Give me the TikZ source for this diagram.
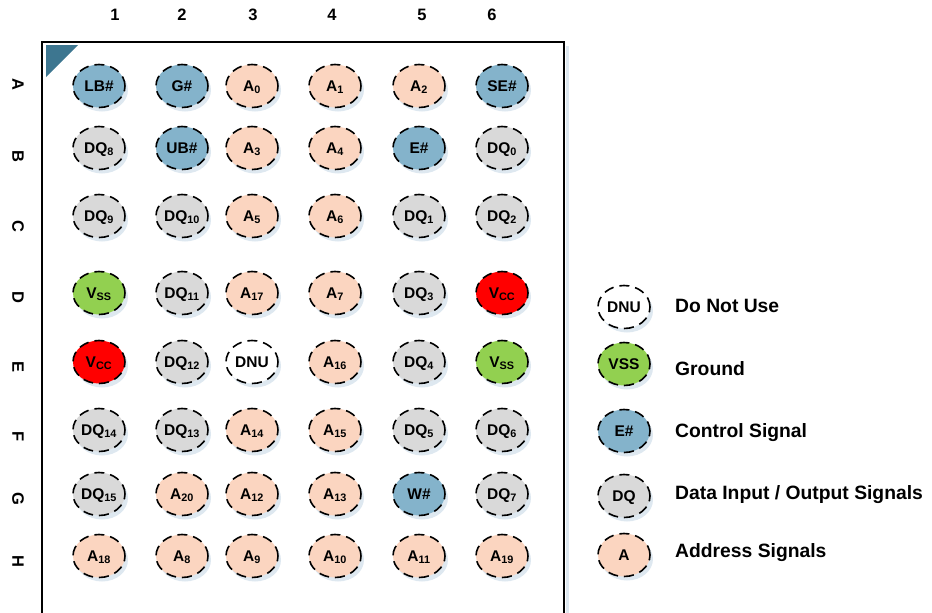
\documentclass[tikz,border=0pt]{standalone}
\usepackage{fontspec}
\setmainfont{Liberation Sans}
\usepackage{tikz}
\usetikzlibrary{shapes.geometric, shadows}
\usepackage{xcolor}
\definecolor{ctrlblue}{RGB}{132,179,203}
\definecolor{addrpeach}{RGB}{251,213,192}
\definecolor{dqgray}{RGB}{217,217,217}
\definecolor{gndgreen}{RGB}{146,208,80}
\definecolor{pwrred}{RGB}{255,0,0}
\definecolor{cornerteal}{RGB}{61,118,144}
\definecolor{shadowblue}{RGB}{222,232,240}
\newcommand{\pinfont}{\fontsize{15.5}{17}\selectfont\bfseries}
\newcommand{\legfont}{\fontsize{19.3}{21}\selectfont\bfseries}
\newcommand{\axfont}{\fontsize{16.5}{18}\selectfont\bfseries}
\tikzset{
    pin/.style = {ellipse, minimum width=52pt, minimum height=43pt, inner sep=0pt, draw=black, line width=1.6pt, dash pattern=on 10pt off 6pt, font=\pinfont, text height=11pt, text depth=1pt, drop shadow={shadow xshift=3pt, shadow yshift=-4pt, fill=shadowblue, opacity=1}},
    ctrl/.style = {pin, fill=ctrlblue},
    addr/.style = {pin, fill=addrpeach},
    dq/.style = {pin, fill=dqgray},
    gnd/.style = {pin, fill=gndgreen},
    pwr/.style = {pin, fill=pwrred},
    dnu/.style = {pin, fill=white},
    collabel/.style = {font=\axfont},
    rowlabel/.style = {font=\axfont, rotate=-90},
    legtext/.style = {font=\legfont, anchor=west, inner sep=0pt, text height=14pt, text depth=0pt}
}

\begin{document}
\begin{tikzpicture}[x=1pt, y=-1pt]
\useasboundingbox (0,0) rectangle (932,613);

\draw [shadowblue, line width=3pt] (567,46) -- (567,613);
\draw [line width=1.5pt] (42,613) |- (564,42) -- (564,613);
\fill [cornerteal] (46,45) -- (78,45) -- (46,77) -- cycle;

\node (col1) [collabel] at (115,15) {1};
\node (col2) [collabel] at (182,15) {2};
\node (col3) [collabel] at (253,15) {3};
\node (col4) [collabel] at (332,15) {4};
\node (col5) [collabel] at (422,15) {5};
\node (col6) [collabel] at (492,15) {6};

\node (rowA) [rowlabel] at (18,84) {A};
\node (rowB) [rowlabel] at (18,156) {B};
\node (rowC) [rowlabel] at (18,226) {C};
\node (rowD) [rowlabel] at (18,297) {D};
\node (rowE) [rowlabel] at (18,367) {E};
\node (rowF) [rowlabel] at (18,437) {F};
\node (rowG) [rowlabel] at (18,499) {G};
\node (rowH) [rowlabel] at (18,561) {H};

\node (pinA1) [ctrl] at (99,86) {LB\#};
\node (pinA2) [ctrl] at (182,86) {G\#};
\node (pinA3) [addr] at (252,86) {A\textsubscript{0}};
\node (pinA4) [addr] at (335,86) {A\textsubscript{1}};
\node (pinA5) [addr] at (419,86) {A\textsubscript{2}};
\node (pinA6) [ctrl] at (502,86) {SE\#};

\node (pinB1) [dq] at (99,148) {DQ\textsubscript{8}};
\node (pinB2) [ctrl] at (182,148) {UB\#};
\node (pinB3) [addr] at (252,148) {A\textsubscript{3}};
\node (pinB4) [addr] at (335,148) {A\textsubscript{4}};
\node (pinB5) [ctrl] at (419,148) {E\#};
\node (pinB6) [dq] at (502,148) {DQ\textsubscript{0}};

\node (pinC1) [dq] at (99,216) {DQ\textsubscript{9}};
\node (pinC2) [dq] at (182,216) {DQ\textsubscript{10}};
\node (pinC3) [addr] at (252,216) {A\textsubscript{5}};
\node (pinC4) [addr] at (335,216) {A\textsubscript{6}};
\node (pinC5) [dq] at (419,216) {DQ\textsubscript{1}};
\node (pinC6) [dq] at (502,216) {DQ\textsubscript{2}};

\node (pinD1) [gnd] at (99,293) {V\textsubscript{SS}};
\node (pinD2) [dq] at (182,293) {DQ\textsubscript{11}};
\node (pinD3) [addr] at (252,293) {A\textsubscript{17}};
\node (pinD4) [addr] at (335,293) {A\textsubscript{7}};
\node (pinD5) [dq] at (419,293) {DQ\textsubscript{3}};
\node (pinD6) [pwr] at (502,293) {V\textsubscript{CC}};

\node (pinE1) [pwr] at (99,362) {V\textsubscript{CC}};
\node (pinE2) [dq] at (182,362) {DQ\textsubscript{12}};
\node (pinE3) [dnu] at (252,362) {DNU};
\node (pinE4) [addr] at (335,362) {A\textsubscript{16}};
\node (pinE5) [dq] at (419,362) {DQ\textsubscript{4}};
\node (pinE6) [gnd] at (502,362) {V\textsubscript{SS}};

\node (pinF1) [dq] at (99,430) {DQ\textsubscript{14}};
\node (pinF2) [dq] at (182,430) {DQ\textsubscript{13}};
\node (pinF3) [addr] at (252,430) {A\textsubscript{14}};
\node (pinF4) [addr] at (335,430) {A\textsubscript{15}};
\node (pinF5) [dq] at (419,430) {DQ\textsubscript{5}};
\node (pinF6) [dq] at (502,430) {DQ\textsubscript{6}};

\node (pinG1) [dq] at (99,494) {DQ\textsubscript{15}};
\node (pinG2) [addr] at (182,494) {A\textsubscript{20}};
\node (pinG3) [addr] at (252,494) {A\textsubscript{12}};
\node (pinG4) [addr] at (335,494) {A\textsubscript{13}};
\node (pinG5) [ctrl] at (419,494) {W\#};
\node (pinG6) [dq] at (502,494) {DQ\textsubscript{7}};

\node (pinH1) [addr] at (99,556) {A\textsubscript{18}};
\node (pinH2) [addr] at (182,556) {A\textsubscript{8}};
\node (pinH3) [addr] at (252,556) {A\textsubscript{9}};
\node (pinH4) [addr] at (335,556) {A\textsubscript{10}};
\node (pinH5) [addr] at (419,556) {A\textsubscript{11}};
\node (pinH6) [addr] at (502,556) {A\textsubscript{19}};

\node (keydnu) [dnu] at (624,307) {DNU};
\node (keygnd) [gnd] at (624,364) {VSS};
\node (keyctrl) [ctrl] at (624,431) {E\#};
\node (keydq) [dq] at (624,496) {DQ};
\node (keyaddr) [addr] at (624,555) {A};

\node (txtdnu) [legtext] at (675,305) {Do Not Use};
\node (txtgnd) [legtext] at (675,368) {Ground};
\node (txtctrl) [legtext] at (675,430) {Control Signal};
\node (txtdq) [legtext] at (675,492) {Data Input / Output Signals};
\node (txtaddr) [legtext] at (675,550) {Address Signals};
\end{tikzpicture}
\end{document}
